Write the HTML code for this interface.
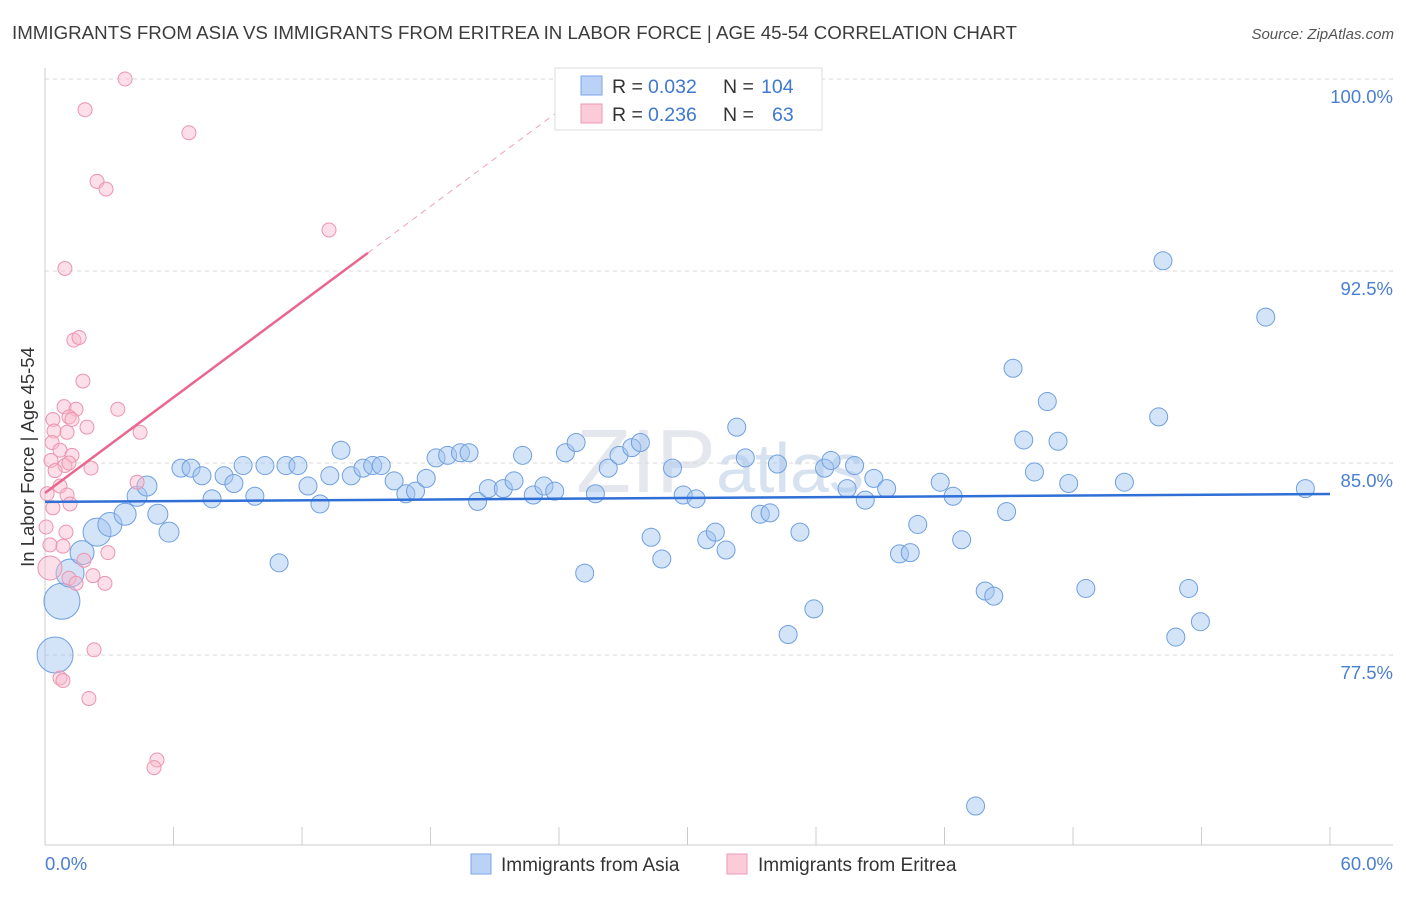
<!DOCTYPE html>
<html><head><meta charset="utf-8"><style>
body{margin:0;background:#fff;font-family:"Liberation Sans",sans-serif;}
svg text{font-family:"Liberation Sans",sans-serif;}
</style></head><body>
<svg id="chart" width="1406" height="892" xmlns="http://www.w3.org/2000/svg">
<text x="12" y="39" font-size="18" fill="#3c3c3c" textLength="1005" lengthAdjust="spacingAndGlyphs">IMMIGRANTS FROM ASIA VS IMMIGRANTS FROM ERITREA IN LABOR FORCE | AGE 45-54 CORRELATION CHART</text>
<text x="1394" y="39" font-size="15" fill="#555" text-anchor="end" font-style="italic">Source: ZipAtlas.com</text>
<text x="720" y="492" font-size="90" fill="#e4e8ee" text-anchor="middle" font-family="Liberation Serif">ZIP<tspan font-family="Liberation Sans" font-size="70" fill="#d6e2f0">atlas</tspan></text>
<g id="grid"></g>
<g id="axes"></g>
<g id="marks"></g>
<g id="lines"></g>
<text transform="translate(34,457) rotate(-90)" font-size="18.5" fill="#333" text-anchor="middle">In Labor Force | Age 45-54</text>
<text x="45" y="870" font-size="18.5" fill="#4a7fd0">0.0%</text>
<text x="1393" y="870" font-size="18.5" fill="#4a7fd0" text-anchor="end">60.0%</text>
<g>
<rect x="555" y="68" width="267" height="62" fill="#fff" stroke="#ddd"/>
<rect x="581" y="76" width="21" height="19" fill="#b9d2f5" stroke="#7aa6e6"/>
<rect x="581" y="104" width="21" height="19" fill="#fbcbd9" stroke="#ee9ab4"/>
<text x="612" y="93" font-size="19.5" fill="#333">R =</text>
<text x="648" y="93" font-size="19.5" fill="#3f78d0">0.032</text>
<text x="723" y="93" font-size="19.5" fill="#333">N =</text>
<text x="761" y="93" font-size="19.5" fill="#3f78d0">104</text>
<text x="612" y="121" font-size="19.5" fill="#333">R =</text>
<text x="648" y="121" font-size="19.5" fill="#3f78d0">0.236</text>
<text x="723" y="121" font-size="19.5" fill="#333">N =</text>
<text x="772" y="121" font-size="19.5" fill="#3f78d0">63</text>
</g>
<g>
<rect x="471" y="854" width="20" height="20" fill="#b9d2f5" stroke="#7aa6e6"/>
<text x="501" y="871" font-size="19" fill="#333">Immigrants from Asia</text>
<rect x="727" y="854" width="20" height="20" fill="#fbcbd9" stroke="#ee9ab4"/>
<text x="758" y="871" font-size="19" fill="#333">Immigrants from Eritrea</text>
</g>
</svg>
<script>
const yTicks=[100,92.5,85,77.5];
const yTickLabels=["100.0%","92.5%","85.0%","77.5%"];
const xTicks=[0,6,12,18,24,30,36,42,48,54,60];
const asiaX=[0.47,0.79,1.17,1.73,2.43,3.03,3.74,4.3,4.76,5.27,5.79,6.35,6.82,7.33,7.8,8.36,8.82,9.25,9.8,10.27,10.93,11.25,11.81,12.28,12.84,13.3,13.82,14.3,14.85,15.3,15.7,16.3,16.85,17.3,17.8,18.26,18.8,19.4,19.8,20.2,20.7,21.4,21.9,22.3,22.8,23.3,23.8,24.3,24.8,25.2,25.7,26.3,26.8,27.4,27.8,28.3,28.8,29.3,29.8,30.4,30.9,31.3,31.8,32.3,32.7,33.4,33.85,34.2,34.7,35.25,35.9,36.4,36.7,37.45,37.8,38.3,38.7,39.3,39.9,40.4,40.75,41.8,42.4,42.8,43.9,44.3,44.9,45.2,45.7,46.2,46.8,47.3,47.8,48.6,50.4,52.0,52.2,52.8,53.4,53.95,57.0,58.85,43.45];
const asiaY=[77.5,79.6,80.7,81.5,82.3,82.6,83.0,83.7,84.1,83.0,82.3,84.8,84.8,84.5,83.6,84.5,84.2,84.9,83.7,84.9,81.1,84.9,84.9,84.1,83.4,84.5,85.5,84.5,84.8,84.9,84.9,84.3,83.8,83.9,84.4,85.2,85.3,85.4,85.4,83.5,84.0,84.0,84.3,85.3,83.75,84.1,83.9,85.4,85.8,80.7,83.8,84.8,85.3,85.6,85.8,82.1,81.25,84.8,83.75,83.6,82.0,82.3,81.6,86.4,85.2,83.0,83.05,84.96,78.3,82.3,79.3,84.8,85.1,84.0,84.9,83.55,84.4,84.0,81.45,81.5,82.6,84.25,83.7,82.0,80.0,79.8,83.1,88.7,85.9,84.65,87.4,85.85,84.2,80.1,84.25,86.8,92.9,78.2,80.1,78.8,90.7,84.0,71.6];
const asiaR=[18,18,14,12,14,12,11,10,10,10,10];
const eritX=[3.74,1.87,6.72,2.43,2.85,13.26,0.93,1.35,1.59,1.77,3.4,0.89,1.45,1.12,1.26,0.37,1.96,4.44,0.42,1.03,0.33,0.7,1.26,0.28,0.93,2.15,0.47,1.12,4.3,0.7,0.1,1.03,1.17,0.37,0.05,0.98,0.23,0.84,2.94,1.82,2.24,1.12,1.45,2.8,2.29,0.7,0.84,2.05,5.23,5.09,0.23];
const eritY=[100.0,98.8,97.9,96.0,95.7,94.1,92.6,89.8,89.9,88.2,87.1,87.2,87.1,86.8,86.7,86.7,86.4,86.2,86.25,86.2,85.8,85.5,85.3,85.1,84.9,84.8,84.7,85.0,84.25,84.1,83.8,83.75,83.4,83.25,82.5,82.3,81.8,81.75,81.5,81.2,80.6,80.5,80.3,80.3,77.7,76.6,76.5,75.8,73.4,73.1,80.9];
const asiaTrend=[83.48,83.79];
const eritTrend=[83.83,0.622];
const X0=45,X1=1330,Y100=79,PX=25.6;
const sx=v=>X0+(v/60)*(X1-X0);
const sy=v=>Y100+(100-v)*PX;
const NS="http://www.w3.org/2000/svg";
function mk(tag,parent,attrs){const e=document.createElementNS(NS,tag);for(const k in attrs)e.setAttribute(k,attrs[k]);parent.appendChild(e);return e;}
const grid=document.getElementById('grid'),axes=document.getElementById('axes'),marks=document.getElementById('marks'),lines=document.getElementById('lines');
yTicks.forEach((t,i)=>{
 const l=mk('line',grid,{x1:45,x2:1393,y1:sy(t),y2:sy(t),stroke:'#d8d8d8','stroke-dasharray':'4,4'});
 
 
 const tx=mk('text',grid,{x:1393,y:sy(t)+24,'font-size':18.5,fill:'#4a7fd0','text-anchor':'end'});
 tx.textContent=yTickLabels[i];
 
 
});
const ax=mk('line',axes,{x1:45,x2:45,y1:68,y2:845,stroke:'#ccc'});


const bx=mk('line',axes,{x1:45,x2:1393,y1:845,y2:845,stroke:'#ccc'});


xTicks.forEach(t=>{
 const l=mk('line',axes,{x1:sx(t),x2:sx(t),y1:827,y2:845,stroke:'#ccc'});
 
 
});
asiaX.forEach((x,i)=>{
 const c=mk('circle',marks,{cx:sx(x),cy:sy(asiaY[i]),r:asiaR[i]||9,fill:'rgba(160,195,240,0.45)',stroke:'#6f9fe0','stroke-width':1});
 
 
});
eritX.forEach((x,i)=>{
 const c=mk('circle',marks,{cx:sx(x),cy:sy(eritY[i]),r:i==eritX.length-1?12:7,fill:'rgba(248,185,205,0.45)',stroke:'#ec94b0','stroke-width':1});
 
 
});
const bl=mk('line',lines,{x1:sx(0),y1:sy(asiaTrend[0]),x2:sx(60),y2:sy(asiaTrend[1]),stroke:'#2f6fd6','stroke-width':2.5});


const ex=15.08,exd=26;
const pl=mk('line',lines,{x1:sx(0),y1:sy(eritTrend[0]),x2:sx(ex),y2:sy(eritTrend[0]+eritTrend[1]*ex),stroke:'#e9678f','stroke-width':2.5});


const pd=mk('line',lines,{x1:sx(ex),y1:sy(eritTrend[0]+eritTrend[1]*ex),x2:sx(exd),y2:sy(eritTrend[0]+eritTrend[1]*exd),stroke:'#efa0b8','stroke-width':1,'stroke-dasharray':'6,5'});


</script>
</body></html>
